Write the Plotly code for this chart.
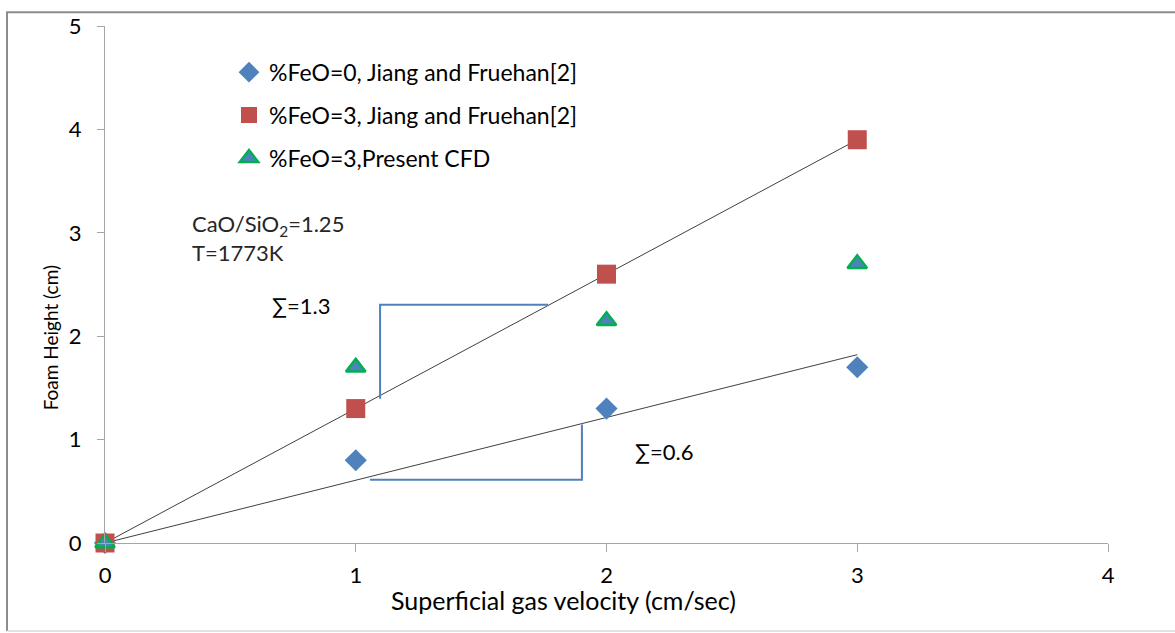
import numpy as np
import plotly.graph_objects as go

# Superficial gas velocity (cm/sec)
velocity = [0, 1, 2, 3]

# Foam height (cm)
feo0_jiang = [0, 0.8, 1.3, 1.7]
feo3_jiang = [0, 1.3, 2.6, 3.9]
feo3_cfd = [0, 1.7, 2.15, 2.7]

series_names = [
    "%FeO=0, Jiang and Fruehan[2]",
    "%FeO=3, Jiang and Fruehan[2]",
    "%FeO=3,Present CFD",
]

x_ticks = [0, 1, 2, 3, 4]
y_ticks = [0, 1, 2, 3, 4, 5]

FONT = "Lato, Calibri, Carlito, sans-serif"
BLUE = "#4F81BD"
RED = "#C0504D"
GREEN = "#00B050"
AXIS_GREY = "#A6A6A6"


def slope_through_origin(xs, ys):
    xs = np.asarray(xs, float)
    ys = np.asarray(ys, float)
    return float((xs * ys).sum() / (xs * xs).sum())


fig = go.Figure()

# linear trend lines forced through the origin
x_fit = np.array([min(velocity), max(velocity)], float)
for ys in (feo3_jiang, feo0_jiang):
    k = slope_through_origin(velocity, ys)
    fig.add_trace(go.Scatter(
        x=x_fit, y=k * x_fit, mode="lines",
        line=dict(color="#404040", width=1),
        showlegend=False, hoverinfo="skip",
    ))

fig.add_trace(go.Scatter(
    x=velocity, y=feo0_jiang, mode="markers", name=series_names[0],
    legendgroup="a",
    marker=dict(symbol="diamond", size=17, color=BLUE, line=dict(width=0)),
))
fig.add_trace(go.Scatter(
    x=velocity, y=feo3_jiang, mode="markers", name=series_names[1],
    legendgroup="b",
    marker=dict(symbol="square", size=19, color=RED, line=dict(width=0)),
))
fig.add_trace(go.Scatter(
    x=velocity, y=feo3_cfd, mode="markers", name=series_names[2],
    legendgroup="c",
    marker=dict(symbol="triangle-up", size=17, color=BLUE,
                line=dict(width=2.5, color=GREEN)),
))

L, R, T, B = 105, 67, 20, 90
W, H = 1175, 633
pw, ph = W - L - R, H - T - B


def px_x(px):
    return (px - L) / pw


def px_y(py):
    return (H - B - py) / ph


shapes = [
    # slope bracket for the upper trend
    dict(type="path", xref="x", yref="y",
         path="M 1.097,1.396 L 1.097,2.304 L 1.767,2.304",
         line=dict(color=BLUE, width=2)),
    # slope bracket for the lower trend
    dict(type="path", xref="x", yref="y",
         path="M 1.057,0.612 L 1.902,0.612 L 1.902,1.147",
         line=dict(color=BLUE, width=2)),
    # chart frame
    dict(type="line", xref="paper", yref="paper",
         x0=px_x(6), x1=px_x(1175), y0=px_y(6), y1=px_y(6),
         line=dict(color="#8C8C8C", width=2)),
    dict(type="line", xref="paper", yref="paper",
         x0=px_x(7), x1=px_x(7), y0=px_y(6), y1=px_y(632),
         line=dict(color="#8C8C8C", width=2)),
    dict(type="line", xref="paper", yref="paper",
         x0=px_x(7), x1=px_x(1175), y0=px_y(632), y1=px_y(632),
         line=dict(color="#D9D9D9", width=1.5)),
]

annotations = [
    dict(x=0.339, y=3.24, xref="x", yref="y", xanchor="left", yanchor="top",
         align="left", showarrow=False,
         text="CaO/SiO<sub>2</sub>=1.25<br>T=1773K",
         font=dict(size=22, color="#262626", family=FONT)),
    dict(x=0.658, y=2.294, xref="x", yref="y", xanchor="left", yanchor="middle",
         showarrow=False, text="∑=1.3",
         font=dict(size=22, color="#000000", family=FONT)),
    dict(x=2.106, y=0.889, xref="x", yref="y", xanchor="left", yanchor="middle",
         showarrow=False, text="∑=0.6",
         font=dict(size=22, color="#000000", family=FONT)),
    dict(x=px_x(563), y=px_y(601), xref="paper", yref="paper",
         xanchor="center", yanchor="middle", showarrow=False,
         text="Superficial gas velocity (cm/sec)",
         font=dict(size=25, color="#000000", family=FONT)),
    dict(x=px_x(50), y=px_y(336), xref="paper", yref="paper",
         xanchor="center", yanchor="middle", showarrow=False, textangle=-90,
         text="Foam Height (cm)",
         font=dict(size=19, color="#000000", family=FONT)),
]

fig.update_layout(
    width=W, height=H,
    margin=dict(l=L, r=R, t=T, b=B),
    paper_bgcolor="white", plot_bgcolor="white",
    font=dict(family=FONT, color="#000000"),
    shapes=shapes,
    annotations=annotations,
    legend=dict(
        x=px_x(229), y=px_y(45), xanchor="left", yanchor="top",
        bgcolor="rgba(0,0,0,0)", font=dict(size=23, family=FONT, color="#000000"),
        tracegroupgap=10, itemsizing="trace",
    ),
    xaxis=dict(
        range=[0, 4], tickvals=x_ticks, ticktext=[str(v) for v in x_ticks],
        showgrid=False, zeroline=False, showline=True,
        linecolor=AXIS_GREY, linewidth=1.2,
        ticks="outside", ticklen=8, tickcolor=AXIS_GREY, tickwidth=1.2,
        tickfont=dict(size=22, family=FONT, color="#000000"),
        ticklabelstandoff=4,
    ),
    yaxis=dict(
        range=[0, 5], tickvals=y_ticks, ticktext=[str(v) for v in y_ticks],
        showgrid=False, zeroline=False, showline=True,
        linecolor=AXIS_GREY, linewidth=1.2,
        ticks="outside", ticklen=7, tickcolor=AXIS_GREY, tickwidth=1.2,
        tickfont=dict(size=22, family=FONT, color="#000000"),
        ticklabelstandoff=11,
    ),
)

# keep markers sitting on the axes visible
fig.update_traces(cliponaxis=False)

fig.write_html("out.html")
